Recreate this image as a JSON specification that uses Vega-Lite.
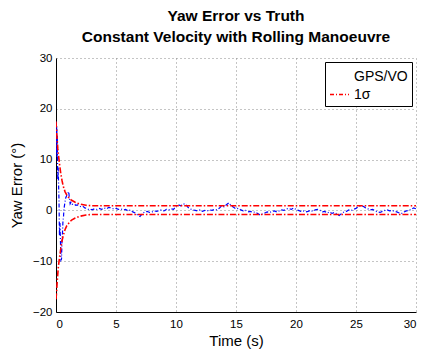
{
  "$schema": "https://vega.github.io/schema/vega-lite/v6.json",
  "autosize": "none",
  "width": 360,
  "height": 254,
  "padding": {"left": 56, "top": 58, "right": 6, "bottom": 46},
  "background": "white",
  "config": {
    "font": "Liberation Sans",
    "view": {"stroke": null},
    "axis": {
      "domainColor": "black",
      "domainWidth": 1,
      "gridColor": "#8a8a8a",
      "gridDash": [1, 3],
      "gridWidth": 1,
      "ticks": false,
      "labelFontSize": 11.5,
      "labelColor": "black",
      "titleFontSize": 15,
      "titleFontWeight": "normal",
      "titleColor": "black"
    }
  },
  "title": {
    "text": ["Yaw Error vs Truth", "Constant Velocity with Rolling Manoeuvre"],
    "fontSize": 15.5,
    "fontWeight": "bold",
    "lineHeight": 21,
    "anchor": "middle",
    "offset": 7,
    "color": "black"
  },
  "datasets": {
    "err": [
      {"t": 0, "e": 17.5}, {"t": 0.03, "e": 15}, {"t": 0.05, "e": 11}, {"t": 0.07, "e": 16.5},
      {"t": 0.09, "e": 10.5}, {"t": 0.11, "e": 14.8}, {"t": 0.13, "e": 9}, {"t": 0.15, "e": 6},
      {"t": 0.18, "e": 8.5}, {"t": 0.21, "e": 5.5}, {"t": 0.25, "e": 2}, {"t": 0.29, "e": -5},
      {"t": 0.33, "e": -2.5}, {"t": 0.37, "e": -6}, {"t": 0.41, "e": -9.8}, {"t": 0.46, "e": -9.6},
      {"t": 0.5, "e": -6}, {"t": 0.54, "e": -4.5}, {"t": 0.58, "e": -2}, {"t": 0.62, "e": -1.5},
      {"t": 0.66, "e": 0.2}, {"t": 0.72, "e": 1.2}, {"t": 0.8, "e": 2.4}, {"t": 0.9, "e": 3.0},
      {"t": 1.0, "e": 3.4}, {"t": 1.06, "e": 3.7}, {"t": 1.12, "e": 2.3}, {"t": 1.18, "e": 1.3},
      {"t": 1.25, "e": 1.6}, {"t": 1.35, "e": 1.2}, {"t": 1.5, "e": 1.3}, {"t": 1.65, "e": 1.0},
      {"t": 1.8, "e": 1.1}, {"t": 1.95, "e": 0.9}, {"t": 2.1, "e": 0.7}, {"t": 2.25, "e": 0.8},
      {"t": 2.4, "e": 0.5}, {"t": 2.55, "e": 0.4}, {"t": 2.7, "e": 0.2}, {"t": 2.85, "e": 0.3},
      {"t": 3.0, "e": 0.1}, {"t": 3.2, "e": 0.3}, {"t": 3.4, "e": 0.2}, {"t": 3.6, "e": 0.4},
      {"t": 3.8, "e": 0.2}, {"t": 4.0, "e": 0.5}, {"t": 4.2, "e": 0.3}, {"t": 4.4, "e": 0.6},
      {"t": 4.6, "e": 0.5}, {"t": 4.8, "e": 0.3}, {"t": 5.0, "e": 0.4}, {"t": 5.2, "e": 0.2},
      {"t": 5.4, "e": 0.3}, {"t": 5.6, "e": 0.1}, {"t": 5.8, "e": 0.2}, {"t": 6.0, "e": -0.1},
      {"t": 6.2, "e": 0.1}, {"t": 6.4, "e": -0.3}, {"t": 6.6, "e": -0.5}, {"t": 6.8, "e": -0.9},
      {"t": 7.0, "e": -1.2}, {"t": 7.2, "e": -0.6}, {"t": 7.4, "e": -0.3}, {"t": 7.6, "e": -0.2},
      {"t": 7.8, "e": -0.4}, {"t": 8.0, "e": -0.3}, {"t": 8.2, "e": -0.1}, {"t": 8.4, "e": -0.2},
      {"t": 8.6, "e": 0.0}, {"t": 8.8, "e": 0.1}, {"t": 9.0, "e": -0.1}, {"t": 9.2, "e": 0.2},
      {"t": 9.4, "e": 0.1}, {"t": 9.6, "e": 0.3}, {"t": 9.8, "e": 0.2}, {"t": 10.0, "e": 0.8},
      {"t": 10.2, "e": 1.1}, {"t": 10.4, "e": 0.9}, {"t": 10.6, "e": 1.3}, {"t": 10.8, "e": 1.2},
      {"t": 11.0, "e": 0.6}, {"t": 11.2, "e": 0.3}, {"t": 11.4, "e": 0.1}, {"t": 11.6, "e": 0.0},
      {"t": 11.8, "e": -0.1}, {"t": 12.0, "e": 0.1}, {"t": 12.2, "e": -0.2}, {"t": 12.4, "e": 0.0},
      {"t": 12.6, "e": -0.1}, {"t": 12.8, "e": 0.1}, {"t": 13.0, "e": 0.0}, {"t": 13.2, "e": 0.2},
      {"t": 13.4, "e": 0.1}, {"t": 13.6, "e": 0.4}, {"t": 13.8, "e": 0.9}, {"t": 14.0, "e": 0.7},
      {"t": 14.2, "e": 1.1}, {"t": 14.4, "e": 1.5}, {"t": 14.6, "e": 0.9}, {"t": 14.8, "e": 0.6},
      {"t": 15.0, "e": 0.3}, {"t": 15.2, "e": 0.4}, {"t": 15.4, "e": 0.1}, {"t": 15.6, "e": -0.1},
      {"t": 15.8, "e": 0.0}, {"t": 16.0, "e": -0.3}, {"t": 16.2, "e": -0.2}, {"t": 16.4, "e": -0.4},
      {"t": 16.6, "e": -0.3}, {"t": 16.8, "e": -0.6}, {"t": 17.0, "e": -0.9}, {"t": 17.2, "e": -0.7},
      {"t": 17.4, "e": -0.5}, {"t": 17.6, "e": -0.3}, {"t": 17.8, "e": -0.4}, {"t": 18.0, "e": -0.2},
      {"t": 18.2, "e": -0.1}, {"t": 18.4, "e": -0.3}, {"t": 18.6, "e": -0.1}, {"t": 18.8, "e": 0.1},
      {"t": 19.0, "e": 0.0}, {"t": 19.2, "e": 0.3}, {"t": 19.4, "e": 0.4}, {"t": 19.6, "e": 0.2},
      {"t": 19.8, "e": 0.5}, {"t": 20.0, "e": 0.2}, {"t": 20.2, "e": 0.0}, {"t": 20.4, "e": -0.2},
      {"t": 20.6, "e": -0.1}, {"t": 20.8, "e": -0.3}, {"t": 21.0, "e": -0.2}, {"t": 21.2, "e": 0.0},
      {"t": 21.4, "e": -0.2}, {"t": 21.6, "e": 0.1}, {"t": 21.8, "e": 0.2}, {"t": 22.0, "e": 0.0},
      {"t": 22.2, "e": -0.3}, {"t": 22.4, "e": -0.2}, {"t": 22.6, "e": -0.5}, {"t": 22.8, "e": -0.3},
      {"t": 23.0, "e": -0.6}, {"t": 23.2, "e": -0.4}, {"t": 23.4, "e": -0.7}, {"t": 23.6, "e": -1.0},
      {"t": 23.8, "e": -0.6}, {"t": 24.0, "e": -0.3}, {"t": 24.2, "e": -0.2}, {"t": 24.4, "e": 0.1},
      {"t": 24.6, "e": 0.0}, {"t": 24.8, "e": 0.2}, {"t": 25.0, "e": 0.4}, {"t": 25.2, "e": 0.7},
      {"t": 25.4, "e": 0.9}, {"t": 25.6, "e": 0.8}, {"t": 25.8, "e": 0.5}, {"t": 26.0, "e": 0.3},
      {"t": 26.2, "e": 0.1}, {"t": 26.4, "e": 0.2}, {"t": 26.6, "e": -0.1}, {"t": 26.8, "e": -0.3},
      {"t": 27.0, "e": -0.4}, {"t": 27.2, "e": -0.2}, {"t": 27.4, "e": 0.0}, {"t": 27.6, "e": 0.1},
      {"t": 27.8, "e": -0.1}, {"t": 28.0, "e": 0.0}, {"t": 28.2, "e": -0.2}, {"t": 28.4, "e": -0.3},
      {"t": 28.6, "e": -0.5}, {"t": 28.8, "e": -0.6}, {"t": 29.0, "e": -0.3}, {"t": 29.2, "e": -0.1},
      {"t": 29.4, "e": 0.0}, {"t": 29.6, "e": 0.2}, {"t": 29.8, "e": 0.5}, {"t": 30.0, "e": 0.3}
    ],
    "sigma": [
      {"t": 0, "hi": 17.5, "lo": -17.5},
      {"t": 0.05, "hi": 15.5, "lo": -16},
      {"t": 0.1, "hi": 13.8, "lo": -14},
      {"t": 0.15, "hi": 12.2, "lo": -12.5},
      {"t": 0.2, "hi": 11, "lo": -11},
      {"t": 0.3, "hi": 9, "lo": -9.2},
      {"t": 0.4, "hi": 7.2, "lo": -7.5},
      {"t": 0.5, "hi": 5.9, "lo": -6},
      {"t": 0.6, "hi": 4.8, "lo": -5},
      {"t": 0.75, "hi": 3.7, "lo": -3.8},
      {"t": 0.9, "hi": 3.0, "lo": -3.0},
      {"t": 1.1, "hi": 2.4, "lo": -2.4},
      {"t": 1.3, "hi": 2.0, "lo": -1.9},
      {"t": 1.6, "hi": 1.6, "lo": -1.5},
      {"t": 2.0, "hi": 1.25, "lo": -1.15},
      {"t": 2.5, "hi": 1.0, "lo": -0.9},
      {"t": 3.0, "hi": 0.92, "lo": -0.8},
      {"t": 30, "hi": 0.92, "lo": -0.8}
    ]
  },
  "encoding": {
    "x": {
      "field": "t",
      "type": "quantitative",
      "scale": {"domain": [0, 30], "nice": false, "zero": false},
      "axis": {"title": "Time (s)", "values": [0, 5, 10, 15, 20, 25, 30], "labelPadding": 6, "titlePadding": 4}
    }
  },
  "layer": [
    {
      "data": {"name": "err"},
      "mark": {"type": "line", "color": "blue", "strokeWidth": 1.2, "strokeDash": [4, 2, 1, 2], "clip": true},
      "encoding": {
        "y": {
          "field": "e",
          "type": "quantitative",
          "scale": {"domain": [-20, 30], "nice": false},
          "axis": {"title": "Yaw Error (°)", "values": [-20, -10, 0, 10, 20, 30], "labelPadding": 4, "titlePadding": 8}
        }
      }
    },
    {
      "data": {"name": "sigma"},
      "transform": [{"fold": ["hi", "lo"], "as": ["bound", "v"]}],
      "mark": {"type": "line", "strokeWidth": 1.6, "strokeDash": [6, 2, 1.5, 2], "clip": true},
      "encoding": {
        "y": {"field": "v", "type": "quantitative"},
        "detail": {"field": "bound"},
        "color": {
          "datum": "1σ",
          "type": "nominal",
          "scale": {"domain": ["GPS/VO", "1σ"], "range": ["rgba(0,0,0,0)", "red"]},
          "legend": {
            "title": null,
            "orient": "top-right",
            "offset": 4,
            "padding": 4,
            "strokeColor": "black",
            "fillColor": "white",
            "symbolType": "stroke",
            "symbolSize": 361,
            "symbolStrokeWidth": 1.5,
            "symbolDash": [4, 2, 1, 2],
            "labelFontSize": 14,
            "labelColor": "black",
            "rowPadding": 0,
            "labelOffset": 4,
            "labelLimit": 200
          }
        }
      }
    }
  ]
}
